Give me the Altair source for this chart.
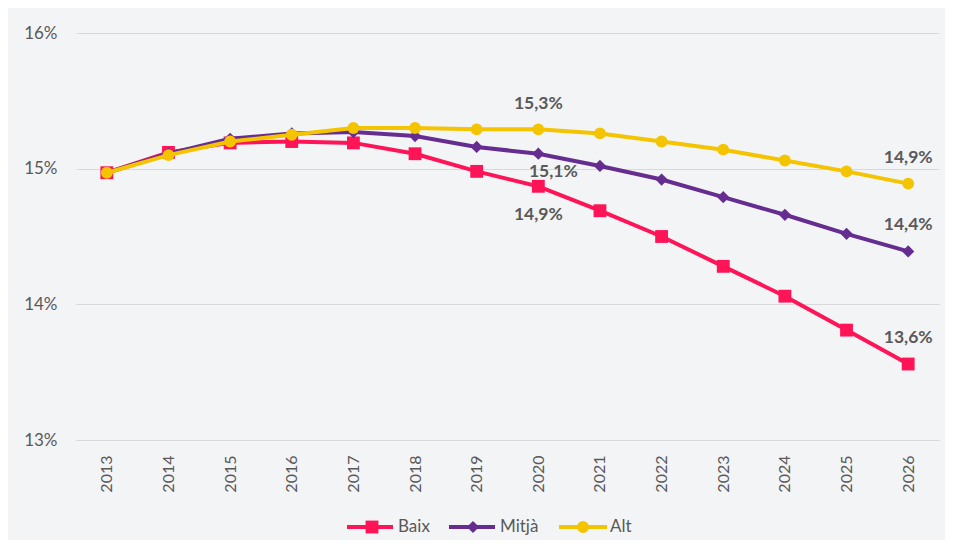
import altair as alt
import pandas as pd

years = [str(y) for y in range(2013, 2027)]
baix = [14.97, 15.12, 15.19, 15.20, 15.19, 15.11, 14.98, 14.87, 14.69, 14.50, 14.28, 14.06, 13.81, 13.56]
mitja = [14.97, 15.11, 15.22, 15.26, 15.27, 15.24, 15.16, 15.11, 15.02, 14.92, 14.79, 14.66, 14.52, 14.39]
alt_vals = [14.97, 15.10, 15.20, 15.25, 15.30, 15.30, 15.29, 15.29, 15.26, 15.20, 15.14, 15.06, 14.98, 14.89]

series_names = ["Baix", "Mitjà", "Alt"]
series_values = [baix, mitja, alt_vals]
series_colors = ["#ff1457", "#662d91", "#f5c400"]
series_shapes = ["square", "diamond", "circle"]
point_sizes = [165, 150, 140]

y_ticks = [13, 14, 15, 16]

label_series = ["Alt", "Mitjà", "Baix", "Alt", "Mitjà", "Baix"]
label_years = ["2020", "2020", "2020", "2026", "2026", "2026"]

GREY = "#595959"
FONT = "Lato"

x_enc = alt.X(
    "year:O",
    scale=alt.Scale(type="point", padding=0.5),
    axis=alt.Axis(title=None, labelAngle=270, labelFontSize=16, labelColor=GREY,
                  labelFont=FONT, labelPadding=15, ticks=False, domain=False, grid=False),
)
y_enc = alt.Y(
    "value:Q",
    scale=alt.Scale(domain=[13, 16], nice=False, zero=False),
    axis=alt.Axis(title=None, values=y_ticks, labelExpr="datum.value + '%'", ticks=False,
                  domain=False, gridColor="#d9d9d9", gridWidth=1, labelPadding=19,
                  labelFontSize=17, labelColor=GREY, labelFont=FONT),
)

layers = []
for name, vals, col, shp, sz in zip(series_names, series_values, series_colors, series_shapes, point_sizes):
    df = pd.DataFrame({"year": years, "value": vals, "serie": name})
    base = alt.Chart(df).encode(x=x_enc, y=y_enc)
    layers.append(base.mark_line(color=col, strokeWidth=4))
    layers.append(base.mark_point(shape=shp, filled=True, opacity=1, color=col, size=sz))

# data labels
lookup = {n: dict(zip(years, v)) for n, v in zip(series_names, series_values)}
lab_rows = []
for s, y in zip(label_series, label_years):
    v = lookup[s][y]
    lab_rows.append({"year": y, "value": v, "serie": s,
                     "text": f"{v:.1f}".replace(".", ",") + "%"})
lab_df = pd.DataFrame(lab_rows)

offsets = {
    ("Alt", "2020"): (0, -20),
    ("Mitjà", "2020"): (15, 23),
    ("Baix", "2020"): (0, 34),
    ("Alt", "2026"): (0, -21),
    ("Mitjà", "2026"): (0, -21),
    ("Baix", "2026"): (0, -21),
}
for (s, y), (dx, dy) in offsets.items():
    sub = lab_df[(lab_df.serie == s) & (lab_df.year == y)]
    layers.append(
        alt.Chart(sub).mark_text(font=FONT, fontSize=17.5, fontWeight="bold", color=GREY,
                                 dx=dx, dy=dy, baseline="alphabetic", align="center")
        .encode(x=x_enc, y=y_enc, text="text:N")
    )

# manual legend (line + marker + name)
legend_pos = [(271, 317, 296, 322), (373, 419, 397, 424), (483, 531, 507, 534)]
LEG_Y = 494
dummy = pd.DataFrame({"k": [0]})
for name, col, shp, sz, (x1, x2, xm, xt) in zip(series_names, series_colors, series_shapes,
                                                point_sizes, legend_pos):
    layers.append(alt.Chart(dummy).mark_rule(color=col, strokeWidth=4).encode(
        x=alt.value(x1), x2=alt.value(x2), y=alt.value(LEG_Y)))
    layers.append(alt.Chart(dummy).mark_point(shape=shp, filled=True, opacity=1, color=col,
                                              size=sz).encode(x=alt.value(xm), y=alt.value(LEG_Y)))
    layers.append(alt.Chart(dummy).mark_text(text=name, font=FONT, fontSize=17, color=GREY,
                                             align="left", baseline="middle").encode(
        x=alt.value(xt), y=alt.value(LEG_Y)))

chart = alt.layer(*layers).properties(
    width=863,
    height=407,
    autosize=alt.AutoSizeParams(type="none"),
    padding={"left": 68, "top": 25, "right": 6, "bottom": 100},
    background="#f3f4f6",
).configure_view(stroke=None)

chart.save("out.html", embed_options={"renderer": "svg", "actions": False})
